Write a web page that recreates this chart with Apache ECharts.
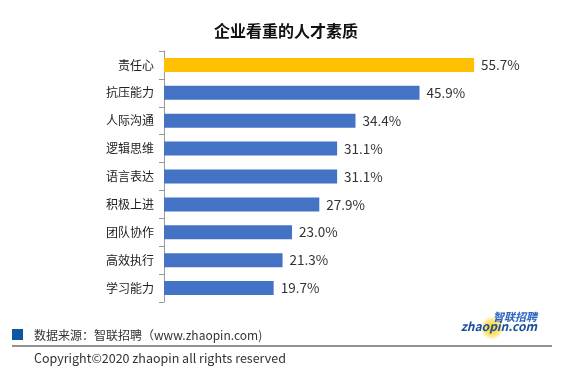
<!DOCTYPE html>
<html><head><meta charset="utf-8">
<script src="https://cdn.jsdelivr.net/npm/echarts@6/dist/echarts.min.js"></script>
<style>html,body{margin:0;padding:0;background:#fff}#c{width:562px;height:371px}</style>
</head><body><div id="c"></div>
<script>
var categories = ['责任心','抗压能力','人际沟通','逻辑思维','语言表达','积极上进','团队协作','高效执行','学习能力'];
var values = [55.7, 45.9, 34.4, 31.1, 31.1, 27.9, 23.0, 21.3, 19.7];
var highlightIndex = 0;
var titleText = '企业看重的人才素质';
var sourceText = '数据来源：智联招聘（www.zhaopin.com)';
var copyrightText = 'Copyright©2020 zhaopin all rights reserved';

var FONT = '"Noto Sans CJK SC", "Noto Sans", sans-serif';
var chart = echarts.init(document.getElementById('c'), null, {renderer:'canvas'});
chart.setOption({
  animation: false,
  backgroundColor: '#fff',
  title: {
    text: titleText, left: 281, top: 18, textAlign: 'center',
    textStyle: {fontFamily: FONT, fontSize: 16, fontWeight: 'bold', color: '#111'}
  },
  grid: {left: 164, top: 51, width: 334, height: 251, containLabel: false},
  xAxis: {type: 'value', min: 0, max: 60, show: false},
  yAxis: {
    type: 'category', data: categories, inverse: true,
    axisLine: {show: true, lineStyle: {color: '#999', width: 1}},
    axisTick: {show: true, length: 5, alignWithLabel: false, lineStyle: {color: '#999'}},
    axisLabel: {fontFamily: FONT, fontSize: 12, color: '#222', margin: 10}
  },
  series: [{
    type: 'bar', barWidth: 14,
    data: values.map(function(v, i){
      return {value: v, itemStyle: {color: i === highlightIndex ? '#FFC000' : '#4472C4'}};
    }),
    label: {
      show: true, position: 'right', distance: 7,
      fontFamily: FONT, fontSize: 13.5, color: '#333',
      formatter: function(p){ return p.value.toFixed(1) + '%'; }
    }
  }],
  graphic: [
    {type: 'rect', shape: {x: 12, y: 329, width: 11, height: 11}, style: {fill: '#0D56A6'}},
    {type: 'text', x: 34, y: 335, style: {text: sourceText, font: '12px ' + FONT, fill: '#333', textVerticalAlign: 'middle'}},
    {type: 'line', shape: {x1: 12, y1: 346, x2: 552, y2: 346}, style: {stroke: '#222', lineWidth: 1}},
    {type: 'text', x: 34, y: 358, style: {text: copyrightText, font: '12.5px ' + FONT, fill: '#333', textVerticalAlign: 'middle'}},
    {type: 'circle', shape: {cx: 492, cy: 328, r: 12},
      style: {fill: new echarts.graphic.RadialGradient(0.5, 0.5, 0.5, [
        {offset: 0, color: 'rgba(255,200,0,0.95)'},
        {offset: 0.7, color: 'rgba(255,215,60,0.6)'},
        {offset: 1, color: 'rgba(255,230,120,0)'}])}},
    {type: 'text', x: 537, y: 317, style: {text: '智联招聘', font: 'italic bold 11px ' + FONT, fill: '#2a64c0', textAlign: 'right', textVerticalAlign: 'middle'}},
    {type: 'text', x: 537, y: 326, style: {text: 'zhaopin.com', font: 'italic bold 12px ' + FONT, fill: '#1b4f9e', textAlign: 'right', textVerticalAlign: 'middle'}}
  ]
});
</script>
</body></html>
